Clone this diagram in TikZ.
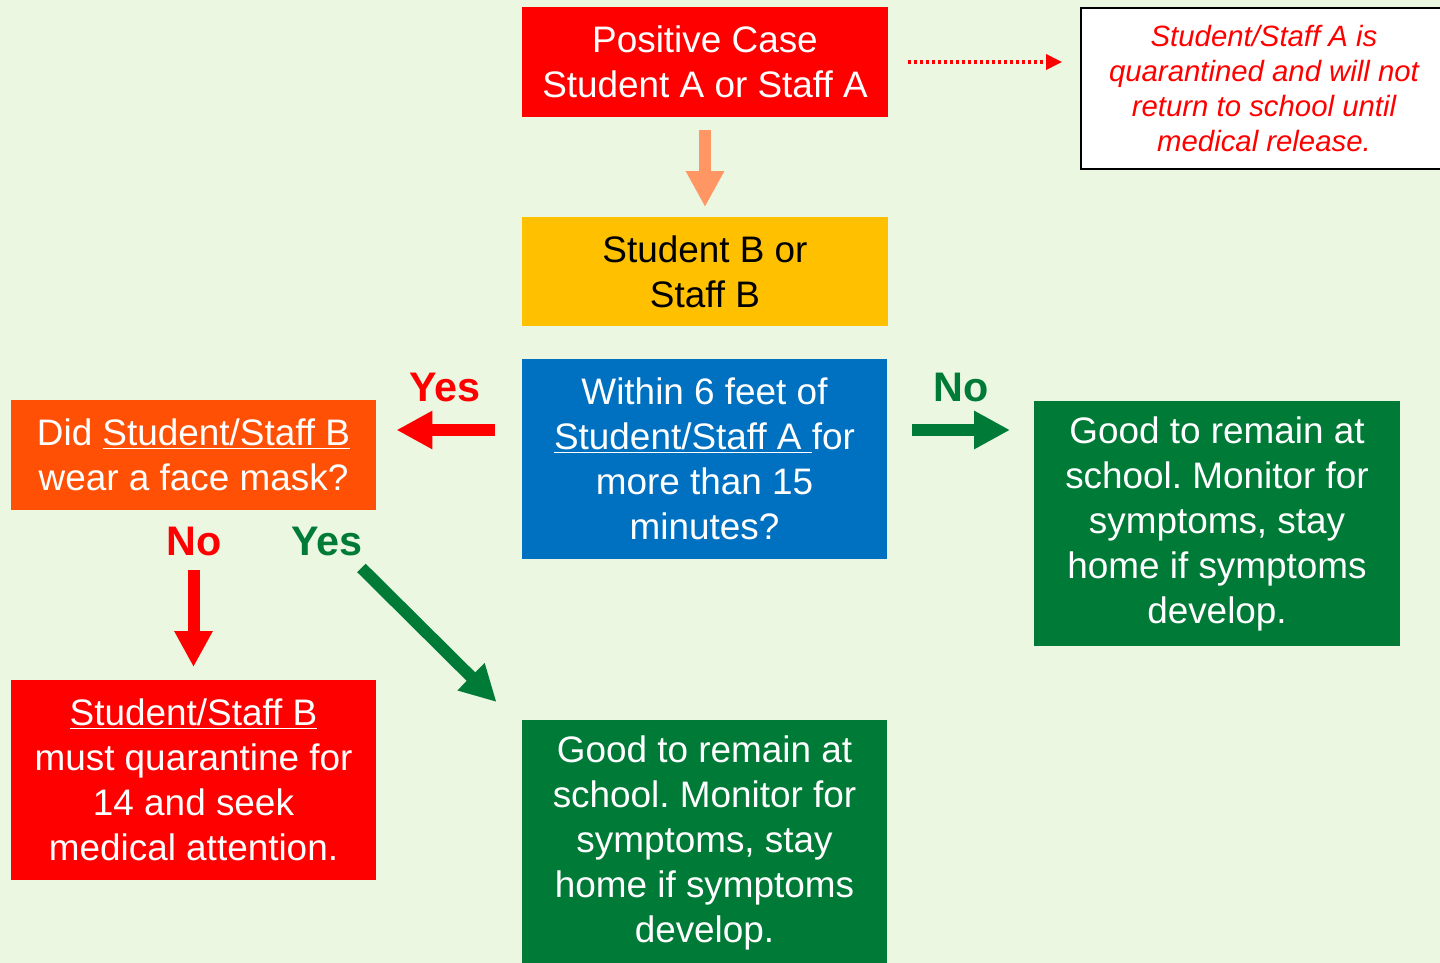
\documentclass[tikz,border=0pt]{standalone}
\usepackage{fontspec}
\setmainfont{Liberation Sans}
\frenchspacing
\usetikzlibrary{arrows.meta,calc}
\definecolor{bgcol}{RGB}{235,247,224}
\definecolor{redbox}{RGB}{255,0,0}
\definecolor{orangebox}{RGB}{255,80,5}
\definecolor{yellowbox}{RGB}{255,192,0}
\definecolor{bluebox}{RGB}{0,112,192}
\definecolor{greenbox}{RGB}{0,122,55}
\definecolor{salmon}{RGB}{255,150,100}

\begin{document}
\begin{tikzpicture}[x=0.02cm,y=-0.02cm,
    box/.style={minimum width=7.32cm,inner sep=0pt,outer sep=0pt,align=center,text=white,font=\fontsize{21}{25.6}\selectfont},
    fat/.style={line width=0.24cm,-{Triangle[width=0.72cm,length=0.72cm]}},
    tag/.style={font=\fontsize{23.5}{27}\selectfont\bfseries}]
      \useasboundingbox[fill=bgcol] (0,0) rectangle (1440,963);
      \node[box,fill=redbox,minimum height=2.2cm] (pos) at (705,62) {Positive Case\\Student A or Staff A};
      \node[box,fill=yellowbox,text=black,minimum height=2.18cm] (stuB) at (705,271.5) {Student B or\\Staff B};
      \node[box,fill=bluebox,minimum height=4cm] (within) at (704.5,459) {Within 6 feet of\\\underline{Student/Staff A\ }for\\more than 15\\minutes?};
      \node[box,fill=orangebox,minimum height=2.2cm] (did) at (193.5,455) {Did \underline{Student/Staff B}\\wear a face mask?};
      \node[box,fill=redbox,minimum height=4cm] (quar) at (193.5,780) {\underline{Student/Staff B}\\must quarantine for\\14 and seek\\medical attention.};
      \node[box,fill=greenbox,minimum height=4.9cm] (goodR) at (1217,523.5) {Good to remain at\\school. Monitor for\\symptoms, stay\\home if symptoms\\develop.};
      \node[box,fill=greenbox,minimum height=4.9cm] (goodB) at (704.5,842.5) {Good to remain at\\school. Monitor for\\symptoms, stay\\home if symptoms\\develop.};
      \node[box,fill=white,draw=black,line width=0.04cm,text=redbox,minimum height=3.22cm,font=\fontsize{16.7}{20}\selectfont\itshape] (note) at (1264,88.5) {Student/Staff A is\\quarantined and will not\\return to school until\\medical release.};
      \node[tag,text=redbox] (yesL) at (445,387) {Yes};
      \node[tag,text=greenbox] (noR) at (961,387) {No};
      \node[tag,text=redbox] (noD) at (194,541) {No};
      \node[tag,text=greenbox] (yesD) at (327,541) {Yes};
      \coordinate (lvl) at (0,430);
      \draw[fat,salmon,shorten <=0.26cm,shorten >=0.2cm] (pos) -- (stuB);
      \draw[redbox,line width=0.07cm,dash pattern=on 0.07cm off 0.05cm,-{Triangle[width=0.3cm,length=0.32cm]},shorten <=0.4cm,shorten >=0.38cm] (pos.east) -- (pos.east -| note.west);
      \draw[fat,redbox,shorten <=0.54cm,shorten >=0.4cm] (within.west |- lvl) -- (did.east |- lvl);
      \draw[fat,greenbox,shorten <=0.5cm,shorten >=0.48cm] (within.east |- lvl) -- (goodR.west |- lvl);
      \draw[fat,redbox,shorten <=1.2cm,shorten >=0.26cm] (did) -- (quar);
      \draw[fat,greenbox] ($(did.south east)+(-15,58)$) -- ($(goodB.north west)+(-25,-18)$);
    \end{tikzpicture}
\end{document}
